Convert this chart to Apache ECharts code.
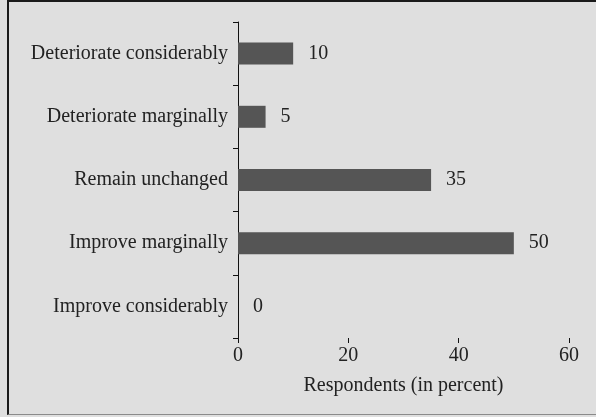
<!DOCTYPE html>
<html lang="en">
<head>
<meta charset="utf-8">
<title>Respondents</title>
<script src="https://cdn.jsdelivr.net/npm/echarts@6/dist/echarts.min.js"></script>
<style>
  html, body { margin: 0; padding: 0; background: #dfdfdf; }
  #frame {
    position: absolute; left: 7px; top: 0; width: 589px; height: 415px;
    border-left: 2px solid #1a1a1a; border-top: 2px solid #1a1a1a; border-bottom: 1px solid #8a8a8a;
    box-sizing: border-box;
  }
  #main { position: absolute; left: 0; top: 0; width: 596px; height: 417px; }
</style>
</head>
<body>
<div id="frame"></div>
<div id="main"></div>
<script type="text/javascript">
// bottom to top
var categories = ['Improve considerably', 'Improve marginally', 'Remain unchanged',
                  'Deteriorate marginally', 'Deteriorate considerably'];
var values = [0, 50, 35, 5, 10];
var xTicks = [0, 20, 40, 60];

var myChart = echarts.init(document.getElementById('main'));
var font = 'Liberation Serif';

var option = {
    animation: false,
    grid: { left: 238, right: 27, top: 22, bottom: 79, containLabel: false },
    xAxis: {
        type: 'value',
        min: xTicks[0],
        max: xTicks[xTicks.length - 1],
        interval: 20,
        name: 'Respondents (in percent)',
        nameLocation: 'middle',
        nameGap: 38,
        nameTextStyle: { fontFamily: font, fontSize: 20, color: '#222' },
        axisLine: { lineStyle: { color: '#111', width: 1 } },
        axisTick: { show: true, length: 5, lineStyle: { color: '#111' } },
        axisLabel: { fontFamily: font, fontSize: 20, color: '#222', margin: 8 },
        splitLine: { show: false }
    },
    yAxis: {
        type: 'category',
        data: categories,
        axisLine: { lineStyle: { color: '#111', width: 1 } },
        axisTick: { show: true, length: 5, lineStyle: { color: '#111' } },
        axisLabel: { fontFamily: font, fontSize: 20, color: '#222', margin: 10 }
    },
    series: [{
        type: 'bar',
        data: values,
        barWidth: 22,
        itemStyle: { color: '#555555' },
        label: {
            show: true,
            position: 'right',
            distance: 15,
            fontFamily: font,
            fontSize: 20,
            color: '#222'
        }
    }]
};

option && myChart.setOption(option);
</script>
</body>
</html>
